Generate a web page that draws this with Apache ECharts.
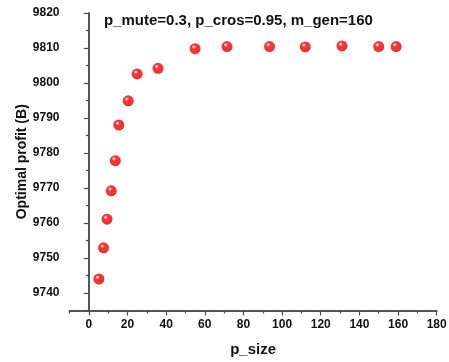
<!DOCTYPE html>
<html>
<head>
<meta charset="utf-8">
<script src="https://cdn.jsdelivr.net/npm/echarts@6/dist/echarts.min.js"></script>
<style>
html,body{margin:0;padding:0;background:#fff;}
#c{width:449px;height:362px;}
</style>
</head>
<body>
<div id="c"></div>
<script>
const pSize = [5.2, 7.6, 9.4, 11.6, 13.7, 15.5, 20.4, 25, 35.8, 55, 71.5, 93.5, 112, 131, 150, 159];
const profit = [9744, 9752.9, 9761.1, 9769.2, 9777.8, 9788, 9794.9, 9802.6, 9804.2, 9809.8, 9810.4, 9810.4, 9810.3, 9810.6, 9810.4, 9810.4];
const xMajor = [0, 20, 40, 60, 80, 100, 120, 140, 160, 180];
const xMinor = [-10, 10, 30, 50, 70, 90, 110, 130, 150, 170];
const yMajor = [9740, 9750, 9760, 9770, 9780, 9790, 9800, 9810, 9820];
const yMinor = [9735, 9745, 9755, 9765, 9775, 9785, 9795, 9805, 9815];
const titleText = 'p_mute=0.3, p_cros=0.95, m_gen=160';

const font = 'Liberation Sans, Arial, sans-serif';
const axisColor = '#4a4a4a';
const chart = echarts.init(document.getElementById('c'), null, {renderer: 'canvas'});
const grid = {left: 69.5, right: 12.3, top: 13, bottom: 51.5, outerBoundsMode: 'none'};

function baseX(extra) {
  return Object.assign({
    type: 'value', min: -10, max: 180, position: 'bottom',
    splitLine: {show: false},
    axisLine: {show: true, lineStyle: {color: axisColor, width: 1.5}},
  }, extra);
}
function baseY(extra) {
  return Object.assign({
    type: 'value', min: 9735, max: 9820, position: 'left',
    splitLine: {show: false},
    axisLine: {show: true, lineStyle: {color: axisColor, width: 1.5}},
  }, extra);
}

chart.setOption({
  animation: false,
  backgroundColor: '#fff',
  title: {
    text: titleText, left: 99, top: 8,
    textStyle: {fontFamily: font, fontSize: 15, fontWeight: 'bold', color: '#111'}
  },
  grid: grid,
  xAxis: [
    baseX({
      name: 'p_size', nameLocation: 'middle', nameGap: 32, nameMoveOverlap: false,
      nameTextStyle: {fontFamily: font, fontSize: 15, fontWeight: 'bold', color: '#111'},
      axisTick: {show: true, length: 5, customValues: xMajor, lineStyle: {color: axisColor, width: 1.2}},
      axisLabel: {show: true, customValues: xMajor, margin: 8, fontFamily: font, fontSize: 12, fontWeight: 'bold', color: '#111'}
    }),
    baseX({
      axisTick: {show: true, length: 3, customValues: xMinor, lineStyle: {color: axisColor, width: 1.2}},
      axisLabel: {show: false}
    })
  ],
  yAxis: [
    baseY({
      name: 'Optimal profit (B)', nameLocation: 'middle', nameGap: 47, nameRotate: 90, nameMoveOverlap: false,
      nameTextStyle: {fontFamily: font, fontSize: 14, fontWeight: 'bold', color: '#111', verticalAlign: 'middle'},
      axisTick: {show: true, length: 5, customValues: yMajor, lineStyle: {color: axisColor, width: 1.2}},
      axisLabel: {show: true, customValues: yMajor, margin: 10, formatter: v => String(v), fontFamily: font, fontSize: 12, fontWeight: 'bold', color: '#111'}
    }),
    baseY({
      axisTick: {show: true, length: 3, customValues: yMinor, lineStyle: {color: axisColor, width: 1.2}},
      axisLabel: {show: false}
    })
  ],
  series: [{
    type: 'scatter',
    xAxisIndex: 0, yAxisIndex: 0,
    symbol: 'circle', symbolSize: 11,
    data: pSize.map((x, i) => [x, profit[i]]),
    itemStyle: {
      color: {
        type: 'radial', x: 0.38, y: 0.34, r: 0.68,
        colorStops: [
          {offset: 0, color: '#ffffff'},
          {offset: 0.12, color: '#ffb0b0'},
          {offset: 0.28, color: '#ff0000'},
          {offset: 0.85, color: '#ee0000'},
          {offset: 1, color: '#b00000'}
        ]
      }
    }
  }]
});
</script>
</body>
</html>
